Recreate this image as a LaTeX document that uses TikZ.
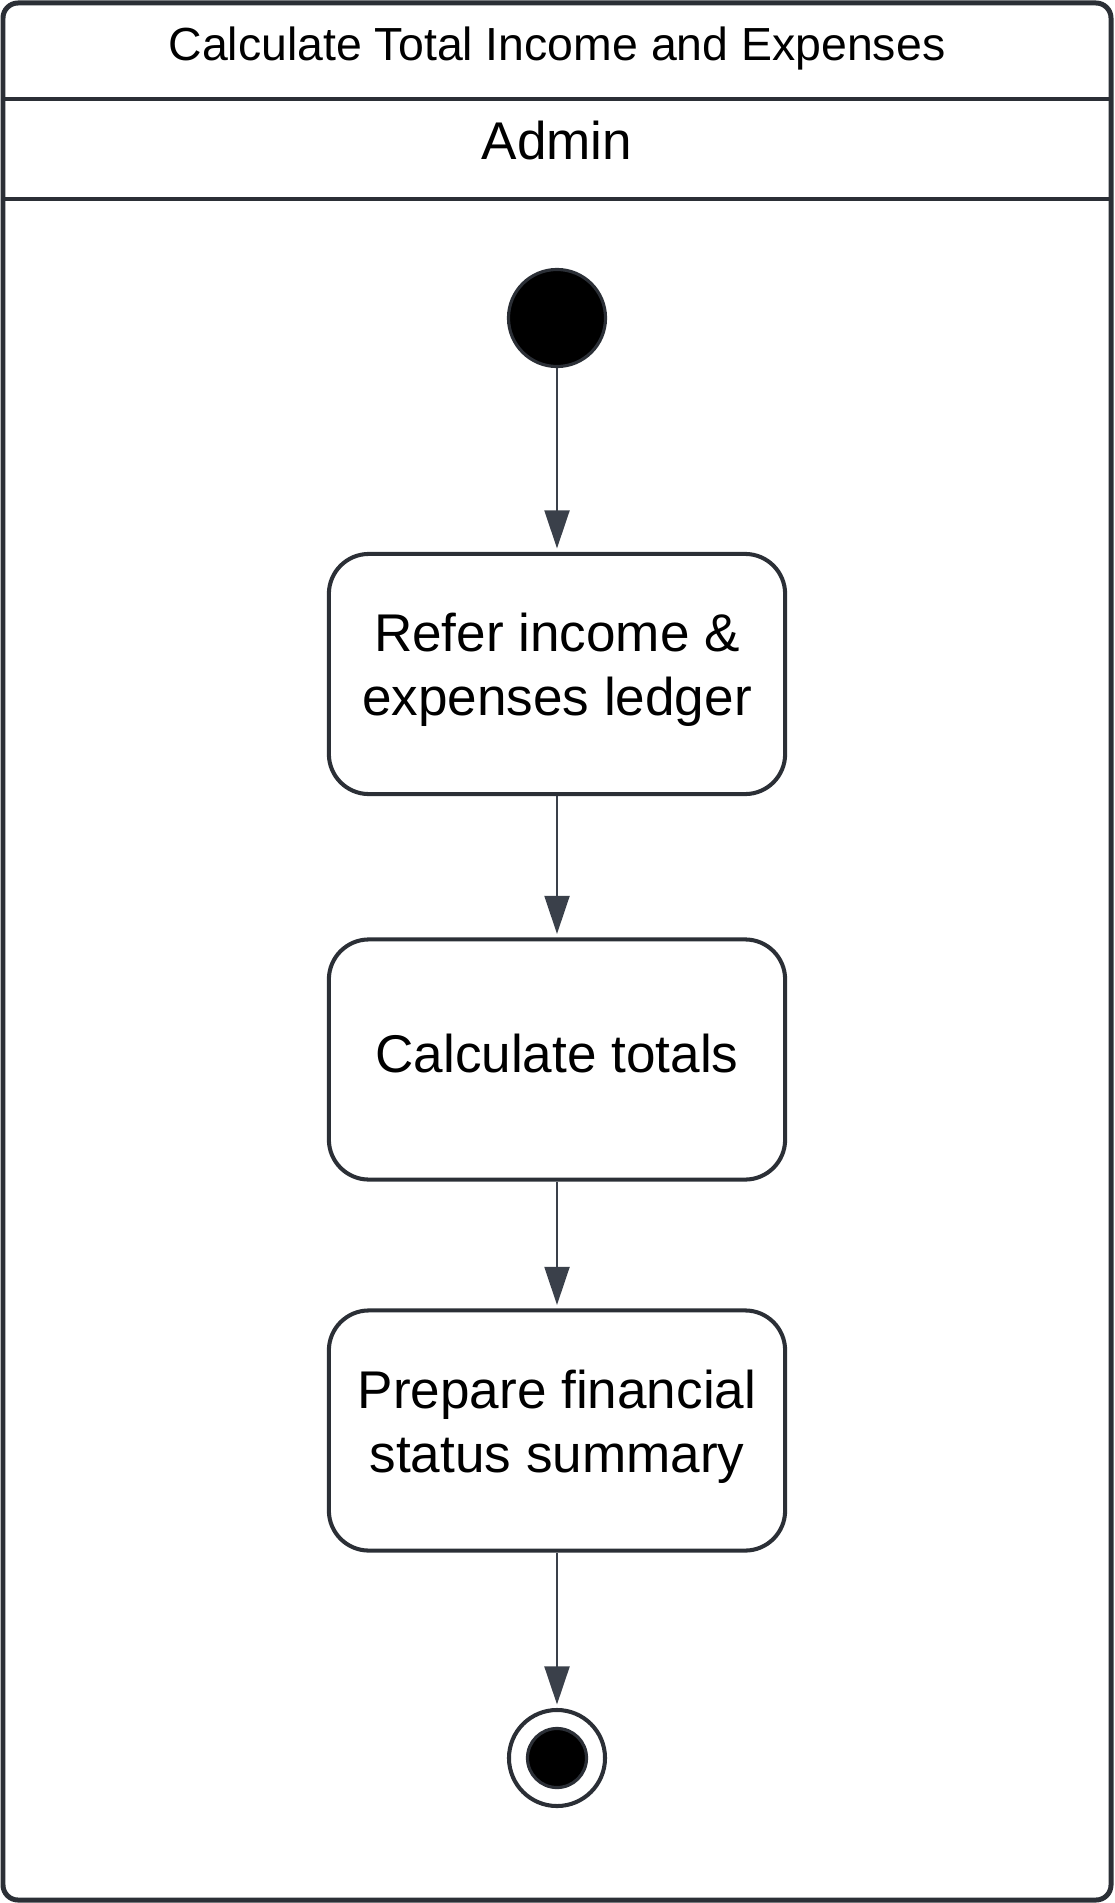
\documentclass[tikz,border=0pt]{standalone}
\usepackage{fontspec}
\setmainfont{Liberation Sans}
\usetikzlibrary{arrows.meta}
\definecolor{edge}{HTML}{2B2F36}
\definecolor{flow}{HTML}{3A404A}

\begin{document}
\begin{tikzpicture}[x=0.01cm, y=-0.01cm,
  act/.style={draw=edge, line width=1.15pt, rounded corners=0.4cm, minimum width=4.56cm, minimum height=2.4cm, inner sep=0pt, align=center, font=\fontsize{15.1pt}{18.2pt}\selectfont, execute at end node=\strut},
  dot/.style={circle, draw=edge, fill=black, line width=0.9pt, inner sep=0pt},
  ring/.style={circle, draw=edge, fill=white, line width=1.15pt, inner sep=0pt, minimum size=0.96cm},
  flowto/.style={draw=flow, line width=0.6pt, -{Triangle[length=0.38cm, width=0.25cm]}, shorten >=1pt}]
\useasboundingbox (0, 0) rectangle (1114, 1903);

\draw[edge, line width=1.42pt, rounded corners=0.15cm] (3, 3) rectangle (1111, 1900);
\draw[edge, line width=1.15pt] (3, 98.7) to (1111, 98.7);
\draw[edge, line width=1.15pt] (3, 199) to (1111, 199);

\node[anchor=base, font=\fontsize{13.2pt}{16pt}\selectfont] (h1) at (557, 61) {Calculate Total Income and Expenses};
\node[anchor=base, font=\fontsize{15.1pt}{18pt}\selectfont] (h2) at (557, 160) {Admin};

\node[dot, minimum size=0.97cm] (s0) at (557, 318) {};
\node[act] (a1) at (557, 674) {Refer income \&\\expenses ledger};
\node[act] (a2) at (557, 1059.5) {Calculate totals};
\node[act] (a3) at (557, 1430.5) {Prepare financial\\status summary};
\node[ring] (f0) at (557, 1758) {};
\node[dot, minimum size=0.59cm] (f1) at (f0) {};

\draw (s0) to (a1)[flowto];
\draw (a1) to (a2)[flowto];
\draw (a2) to (a3)[flowto];
\draw (a3) to (f0)[flowto];

\end{tikzpicture}
\end{document}
